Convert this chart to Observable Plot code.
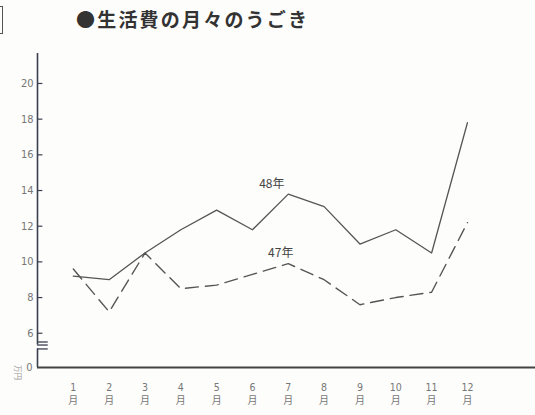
<!DOCTYPE html>
<html><head><meta charset="utf-8">
<script src="https://cdn.jsdelivr.net/npm/d3@7"></script>
<script src="https://cdn.jsdelivr.net/npm/@observablehq/plot@0.6"></script>
<style>
body{margin:0;background:#fdfdfb;}
#wrap{position:relative;width:535px;height:415px;overflow:hidden;background:#fdfdfb;}
#title{position:absolute;left:76px;top:5px;font-family:"Noto Sans CJK JP",sans-serif;font-size:19px;letter-spacing:2.2px;color:#333;font-weight:700;white-space:nowrap;}
#bracket{position:absolute;left:-4px;top:6px;width:6px;height:26px;border:1.5px solid #555;border-left:none;}
#chart svg{background:transparent;}
</style></head><body>
<div id="wrap"><div id="chart"></div><div id="bracket"></div><div id="title">●生活費の月々のうごき</div></div>
<script>
const months = [1, 2, 3, 4, 5, 6, 7, 8, 9, 10, 11, 12];
const spending48 = [9.2, 9.0, 10.5, 11.8, 12.9, 11.8, 13.8, 13.1, 11.0, 11.8, 10.5, 17.8];
const spending47 = [9.6, 7.2, 10.5, 8.5, 8.7, 9.3, 9.9, 9.0, 7.6, 8.0, 8.3, 12.2];
const yTicks = [6, 8, 10, 12, 14, 16, 18, 20];
const zeroTick = [0];
const seriesNames = ["48年", "47年"];
const monthUnit = "月";
const unitLabel = "万円";

const table = months.map((m, i) => ({month: m, v48: spending48[i], v47: spending47[i]}));

// broken axis: the "0" baseline is drawn just below the 6 tick
const BASE = 4.08;
const TOP = 21.68;
const breakUpper = [5.51, 5.34];
const breakLower = 5.12;

const numFont = '"Liberation Sans Narrow","DejaVu Sans Condensed","Noto Sans CJK JP",sans-serif';
const cjkFont = '"Noto Sans CJK JP",sans-serif';
const axisColor = "#3b4050";
const lineColor = "#555";
const labelColor = "#777";

const chart = Plot.plot({
  width: 535,
  height: 415,
  marginLeft: 37,
  marginRight: 0,
  marginTop: 53,
  marginBottom: 48,
  style: {background: "transparent", overflow: "visible"},
  x: {domain: [0, 13.9], axis: null},
  y: {domain: [BASE, TOP], axis: null},
  marks: [
    // y axis (upper part, above the break)
    Plot.ruleX([0], {x: d => d, y1: breakUpper[1], y2: TOP, stroke: axisColor, strokeWidth: 1.6}),
    // y axis (lower part, below the break)
    Plot.ruleX([0], {x: d => d, y1: BASE, y2: breakLower, stroke: axisColor, strokeWidth: 1.6}),
    // break strokes
    Plot.ruleY([...breakUpper, breakLower], {y: d => d, x1: 0, x2: 0.3, stroke: axisColor, strokeWidth: 1.3}),
    // baseline (value 0)
    Plot.ruleY(zeroTick, {y: () => BASE, x1: 0, x2: 13.9, stroke: "#444", strokeWidth: 2}),
    // y ticks
    Plot.ruleY(yTicks, {y: d => d, x1: 0, x2: 0.15, stroke: axisColor, strokeWidth: 1.2}),
    Plot.text(yTicks, {x: 0, y: d => d, text: d => String(d), textAnchor: "end", dx: -4, fill: labelColor, fontSize: 11, fontFamily: numFont}),
    Plot.text(zeroTick, {x: 0, y: () => BASE, text: d => String(d), textAnchor: "end", dx: -5, fill: labelColor, fontSize: 11, fontFamily: numFont}),
    Plot.text([unitLabel], {x: 0, y: BASE, text: d => d, dx: -20, dy: 5, rotate: 90, fill: "#999", fontSize: 7.5, fontFamily: cjkFont}),
    // month labels
    Plot.text(months, {x: d => d, y: BASE, text: d => String(d), dy: 20, fill: labelColor, fontSize: 10.5, fontFamily: numFont}),
    Plot.text(months, {x: d => d, y: BASE, text: () => monthUnit, dy: 33, fill: labelColor, fontSize: 10, fontFamily: cjkFont}),
    // series
    Plot.line(table, {x: "month", y: "v48", stroke: lineColor, strokeWidth: 1.3}),
    Plot.line(table, {x: "month", y: "v47", stroke: lineColor, strokeWidth: 1.4, strokeDasharray: "13,7"}),
    Plot.text([seriesNames[0]], {x: 6.54, y: 14.33, text: d => d, fill: "#444", fontSize: 12, fontFamily: cjkFont}),
    Plot.text([seriesNames[1]], {x: 6.79, y: 10.47, text: d => d, fill: "#444", fontSize: 12, fontFamily: cjkFont})
  ]
});
document.getElementById("chart").append(chart);
</script>
</body></html>
